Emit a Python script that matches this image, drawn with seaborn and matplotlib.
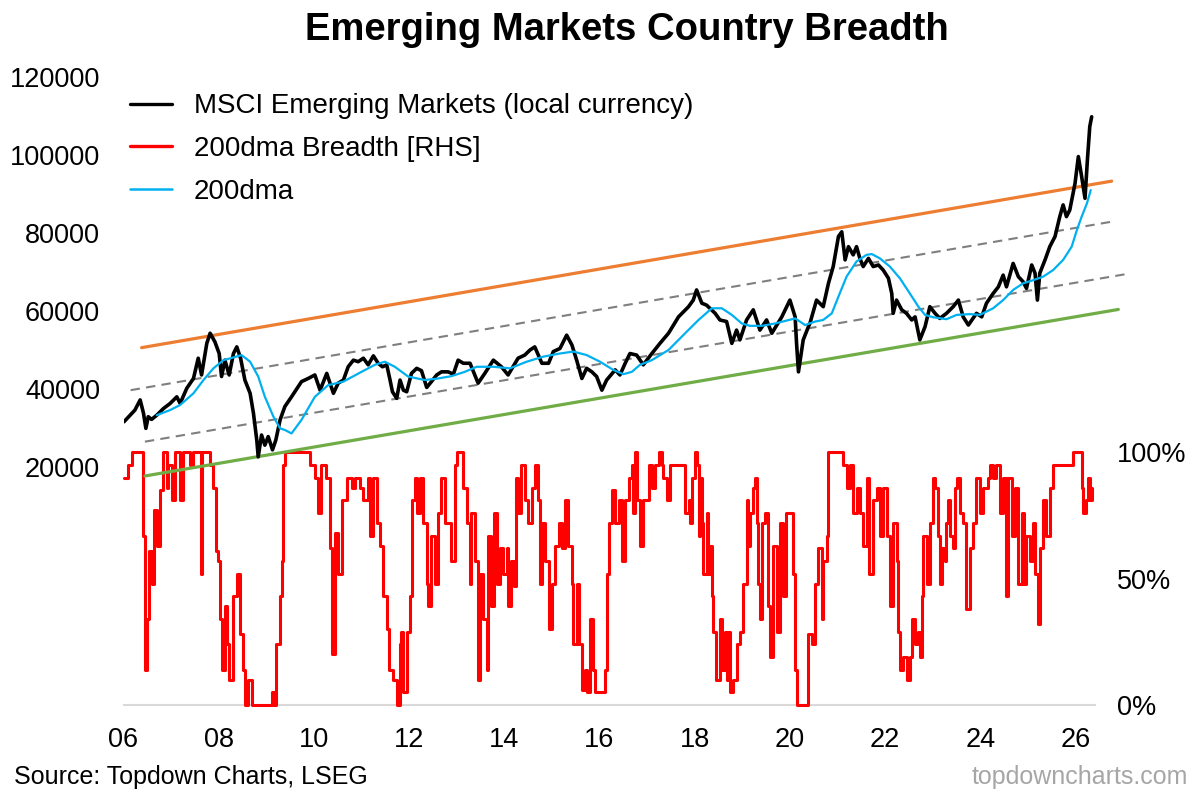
import matplotlib
matplotlib.use("Agg")
import matplotlib.pyplot as plt
import seaborn as sns
import pandas as pd
from matplotlib.lines import Line2D

# ---------------- data ----------------
msci_year = [2006.01, 2006.14, 2006.24, 2006.35, 2006.42, 2006.47, 2006.52, 2006.59, 2006.70, 2006.84,
             2006.98, 2007.12, 2007.19, 2007.33, 2007.47, 2007.57, 2007.64, 2007.75, 2007.82, 2007.92,
             2008.01, 2008.06, 2008.13, 2008.22, 2008.31, 2008.38, 2008.46, 2008.55, 2008.66, 2008.73,
             2008.80, 2008.83, 2008.90, 2008.97, 2009.04, 2009.13, 2009.20, 2009.29, 2009.39, 2009.53,
             2009.74, 2009.88, 2010.02, 2010.13, 2010.27, 2010.41, 2010.51, 2010.62, 2010.72, 2010.83,
             2010.93, 2011.04, 2011.14, 2011.25, 2011.35, 2011.44, 2011.53, 2011.60, 2011.65, 2011.74,
             2011.81, 2011.88, 2011.95, 2012.05, 2012.16, 2012.26, 2012.37, 2012.47, 2012.58, 2012.68,
             2012.82, 2012.93, 2013.03, 2013.14, 2013.28, 2013.45, 2013.59, 2013.77, 2013.94, 2014.08,
             2014.29, 2014.43, 2014.54, 2014.64, 2014.79, 2014.93, 2015.03, 2015.17, 2015.31, 2015.42,
             2015.52, 2015.63, 2015.73, 2015.84, 2015.94, 2016.05, 2016.15, 2016.33, 2016.43, 2016.54,
             2016.64, 2016.78, 2016.92, 2017.10, 2017.27, 2017.45, 2017.66, 2017.87, 2017.97, 2018.04,
             2018.15, 2018.25, 2018.43, 2018.53, 2018.67, 2018.78, 2018.88, 2018.95, 2019.09, 2019.23,
             2019.37, 2019.51, 2019.62, 2019.83, 2020.00, 2020.11, 2020.14, 2020.18, 2020.28, 2020.39,
             2020.42, 2020.56, 2020.70, 2020.81, 2020.91, 2021.02, 2021.09, 2021.16, 2021.23, 2021.33,
             2021.40, 2021.47, 2021.54, 2021.65, 2021.75, 2021.86, 2021.96, 2022.07, 2022.14, 2022.17,
             2022.24, 2022.35, 2022.45, 2022.56, 2022.63, 2022.73, 2022.84, 2022.94, 2023.05, 2023.15,
             2023.29, 2023.43, 2023.54, 2023.64, 2023.75, 2023.92, 2024.03, 2024.13, 2024.27, 2024.38,
             2024.48, 2024.55, 2024.69, 2024.80, 2024.90, 2024.97, 2025.08, 2025.15, 2025.20, 2025.25,
             2025.36, 2025.46, 2025.57, 2025.67, 2025.74, 2025.81, 2025.88, 2025.99, 2026.06, 2026.13,
             2026.20, 2026.25, 2026.30, 2026.34]
msci_value = [31600, 33300, 34600, 37200, 33800, 29900, 32900, 32200, 33300, 35000,
              36300, 38000, 36300, 40200, 42700, 47900, 43600, 51700, 54300, 52100,
              49100, 43200, 47400, 43600, 49100, 50800, 47900, 42300, 38900, 33800,
              26900, 22600, 28200, 25600, 27800, 24400, 26900, 32100, 35500, 38000,
              41900, 42700, 43600, 39700, 44000, 38900, 41500, 42300, 45700, 47400,
              47000, 47900, 46200, 48500, 46600, 45700, 46200, 42300, 39300, 37600,
              42300, 39700, 39300, 44000, 45300, 44700, 40400, 41900, 43600, 44400,
              44400, 43800, 47400, 46600, 46600, 41500, 44000, 47400, 45700, 43600,
              47900, 48700, 50000, 50800, 46600, 46600, 49600, 50400, 53800, 51300,
              47400, 42700, 45300, 44400, 43200, 39700, 42300, 44900, 43600, 46600,
              49100, 48700, 46200, 49100, 51700, 54300, 58500, 61100, 62800, 65400,
              62000, 61500, 59400, 57700, 57300, 51700, 55100, 52600, 57700, 60300,
              55100, 57700, 54300, 58500, 62800, 58500, 51700, 44400, 52600, 56000,
              56800, 62800, 61100, 67100, 71400, 79100, 80300, 73100, 76500, 74400,
              76500, 73500, 71400, 73500, 71400, 71800, 70500, 68400, 64500, 59400,
              62800, 60300, 59400, 57700, 58500, 52600, 56000, 61100, 59400, 58100,
              59400, 61100, 62800, 58500, 56400, 59400, 58500, 62000, 64500, 66200,
              69200, 66200, 72200, 68800, 67500, 65800, 71800, 69700, 62800, 69700,
              73100, 76500, 79100, 84200, 87200, 84200, 85900, 92700, 99600, 94400,
              88900, 98700, 107300, 109800]

dma_year = [2006.70, 2006.98, 2007.19, 2007.47, 2007.68, 2007.89, 2008.10, 2008.31, 2008.48, 2008.66,
            2008.83, 2008.97, 2009.15, 2009.29, 2009.39, 2009.53, 2009.74, 2010.02, 2010.30, 2010.62,
            2011.00, 2011.28, 2011.49, 2011.70, 2011.98, 2012.33, 2012.61, 2012.89, 2013.17, 2013.42,
            2013.77, 2014.12, 2014.47, 2014.82, 2015.17, 2015.45, 2015.73, 2016.01, 2016.29, 2016.50,
            2016.68, 2016.85, 2017.10, 2017.45, 2017.80, 2018.08, 2018.36, 2018.57, 2018.78, 2018.99,
            2019.16, 2019.41, 2019.69, 2020.11, 2020.32, 2020.53, 2020.70, 2020.88, 2021.02, 2021.19,
            2021.40, 2021.61, 2021.72, 2021.89, 2022.10, 2022.31, 2022.52, 2022.70, 2022.84, 2023.01,
            2023.29, 2023.50, 2023.78, 2023.99, 2024.27, 2024.48, 2024.69, 2024.90, 2025.11, 2025.32,
            2025.53, 2025.74, 2025.92, 2026.03, 2026.13, 2026.24, 2026.32]
dma_value = [33300, 34600, 35900, 38900, 42300, 45300, 47400, 48100, 48700, 47000,
             43200, 38000, 32900, 29900, 29500, 28600, 32100, 38000, 41000, 41900,
             44400, 46200, 47000, 45700, 43200, 42300, 42700, 43300, 44400, 45700,
             45700, 45300, 47000, 48300, 49100, 49600, 48700, 47000, 44900, 43800,
             44400, 46200, 47400, 50000, 54300, 57700, 60700, 60700, 59000, 56800,
             56200, 56200, 56800, 58100, 56400, 57300, 57700, 59400, 63700, 68800,
             72700, 74400, 74600, 73500, 71400, 68400, 64500, 61100, 59000, 58400,
             57900, 59000, 59200, 59000, 60700, 62800, 65400, 67100, 67900, 68800,
             70500, 73100, 76500, 80800, 84200, 87600, 91000]

breadth_year = [2006.00, 2006.10, 2006.17, 2006.40, 2006.45, 2006.49, 2006.54, 2006.59, 2006.64, 2006.70,
                2006.77, 2006.84, 2006.91, 2006.94, 2007.01, 2007.08, 2007.19, 2007.26, 2007.40, 2007.47,
                2007.62, 2007.65, 2007.82, 2007.89, 2007.94, 2007.99, 2008.03, 2008.06, 2008.13, 2008.17,
                2008.22, 2008.31, 2008.38, 2008.45, 2008.52, 2008.55, 2008.62, 2008.70, 2009.12, 2009.16,
                2009.20, 2009.29, 2009.32, 2009.36, 2009.40, 2009.92, 2010.02, 2010.09, 2010.14, 2010.25,
                2010.34, 2010.37, 2010.44, 2010.51, 2010.58, 2010.69, 2010.79, 2010.86, 2010.97, 2011.04,
                2011.14, 2011.18, 2011.25, 2011.32, 2011.39, 2011.46, 2011.53, 2011.58, 2011.67, 2011.74,
                2011.81, 2011.84, 2011.88, 2011.95, 2012.02, 2012.07, 2012.12, 2012.16, 2012.23, 2012.30,
                2012.37, 2012.40, 2012.47, 2012.54, 2012.61, 2012.68, 2012.75, 2012.89, 2012.96, 2013.00,
                2013.14, 2013.21, 2013.28, 2013.31, 2013.38, 2013.45, 2013.49, 2013.56, 2013.63, 2013.66,
                2013.73, 2013.79, 2013.84, 2013.91, 2013.98, 2014.05, 2014.08, 2014.15, 2014.21, 2014.24,
                2014.29, 2014.36, 2014.43, 2014.50, 2014.58, 2014.64, 2014.70, 2014.74, 2014.79, 2014.86,
                2014.93, 2015.00, 2015.07, 2015.14, 2015.21, 2015.28, 2015.33, 2015.42, 2015.45, 2015.52,
                2015.57, 2015.63, 2015.70, 2015.73, 2015.80, 2015.87, 2015.91, 2016.12, 2016.15, 2016.20,
                2016.26, 2016.33, 2016.40, 2016.47, 2016.54, 2016.61, 2016.68, 2016.71, 2016.75, 2016.78,
                2016.85, 2016.92, 2017.03, 2017.10, 2017.17, 2017.24, 2017.31, 2017.34, 2017.41, 2017.48,
                2017.80, 2017.87, 2017.90, 2017.94, 2018.01, 2018.04, 2018.08, 2018.11, 2018.15, 2018.18,
                2018.25, 2018.29, 2018.32, 2018.36, 2018.39, 2018.45, 2018.53, 2018.57, 2018.64, 2018.67,
                2018.71, 2018.74, 2018.81, 2018.88, 2018.95, 2019.02, 2019.09, 2019.13, 2019.16, 2019.23,
                2019.27, 2019.30, 2019.34, 2019.37, 2019.41, 2019.48, 2019.55, 2019.58, 2019.65, 2019.72,
                2019.79, 2019.86, 2019.92, 2020.07, 2020.11, 2020.14, 2020.39, 2020.46, 2020.53, 2020.60,
                2020.67, 2020.70, 2020.77, 2020.81, 2021.12, 2021.19, 2021.26, 2021.33, 2021.40, 2021.47,
                2021.54, 2021.61, 2021.67, 2021.75, 2021.82, 2021.89, 2021.96, 2022.03, 2022.10, 2022.17,
                2022.24, 2022.28, 2022.31, 2022.38, 2022.45, 2022.52, 2022.56, 2022.63, 2022.70, 2022.73,
                2022.77, 2022.80, 2022.87, 2022.94, 2023.01, 2023.05, 2023.12, 2023.15, 2023.19, 2023.26,
                2023.29, 2023.33, 2023.36, 2023.43, 2023.47, 2023.52, 2023.57, 2023.64, 2023.71, 2023.78,
                2023.85, 2023.92, 2023.99, 2024.06, 2024.17, 2024.20, 2024.27, 2024.34, 2024.41, 2024.48,
                2024.53, 2024.59, 2024.66, 2024.73, 2024.80, 2024.87, 2024.92, 2024.97, 2025.04, 2025.11,
                2025.15, 2025.21, 2025.25, 2025.32, 2025.39, 2025.46, 2025.53, 2025.95, 2026.13, 2026.16,
                2026.23, 2026.27, 2026.30, 2026.34]
breadth_pct = [90, 95, 100, 67, 14, 34, 61, 48, 77, 63,
               85, 100, 86, 95, 81, 100, 81, 100, 95, 100,
               52, 100, 95, 86, 61, 57, 34, 14, 39, 24,
               10, 43, 52, 28, 14, 0, 10, 0, 5, 0,
               24, 43, 57, 95, 100, 95, 90, 76, 95, 90,
               62, 20, 68, 52, 81, 90, 86, 90, 86, 81,
               90, 67, 90, 72, 63, 43, 30, 14, 10, 0,
               24, 29, 5, 29, 43, 81, 90, 76, 90, 72,
               48, 39, 67, 48, 76, 90, 72, 57, 95, 100,
               86, 72, 48, 76, 57, 10, 52, 34, 14, 67,
               39, 76, 48, 62, 52, 62, 39, 57, 47, 90,
               76, 95, 81, 72, 86, 95, 81, 48, 72, 57,
               30, 48, 63, 72, 62, 81, 63, 48, 24, 48,
               24, 6, 14, 5, 34, 14, 5, 14, 52, 72,
               85, 72, 81, 57, 81, 90, 95, 76, 100, 81,
               63, 81, 95, 86, 95, 100, 95, 90, 81, 95,
               76, 81, 72, 90, 100, 95, 67, 90, 72, 52,
               76, 52, 63, 43, 29, 10, 34, 14, 29, 10,
               29, 5, 10, 24, 29, 48, 81, 63, 76, 86,
               90, 72, 48, 34, 72, 76, 39, 19, 63, 29,
               72, 43, 76, 52, 14, 0, 28, 24, 48, 62,
               34, 57, 67, 100, 95, 86, 95, 76, 86, 76,
               63, 90, 52, 81, 86, 67, 86, 67, 39, 72,
               57, 29, 14, 19, 10, 19, 34, 24, 29, 19,
               43, 67, 48, 72, 90, 86, 67, 48, 62, 57,
               72, 81, 67, 62, 86, 90, 76, 72, 38, 62,
               72, 90, 76, 86, 90, 95, 90, 95, 76, 90,
               43, 90, 67, 86, 48, 76, 48, 67, 57, 72,
               52, 32, 62, 81, 67, 86, 95, 100, 86, 76,
               81, 90, 81, 86]

# trend channel (start / end points)
orange_year = [2006.38, 2026.76]
orange_value = [50600, 93300]
upper_dash_year = [2006.15, 2026.76]
upper_dash_value = [39700, 82900]
lower_dash_year = [2006.45, 2027.08]
lower_dash_value = [26500, 69500]
green_year = [2006.45, 2026.90]
green_value = [17700, 60400]

left_ticks = [20000, 40000, 60000, 80000, 100000, 120000]
right_ticks = [0, 50, 100]
right_ticklabels = ["0%", "50%", "100%"]
x_ticks = list(range(2006, 2027, 2))
x_ticklabels = ["06", "08", "10", "12", "14", "16", "18", "20", "22", "24", "26"]

legend_labels = ["MSCI Emerging Markets (local currency)", "200dma Breadth [RHS]", "200dma"]

# ---------------- styling ----------------
sns.set_style("white")
plt.rcParams["font.family"] = ["Liberation Sans", "DejaVu Sans"]
plt.rcParams["text.color"] = "black"
plt.rcParams["axes.labelcolor"] = "black"
plt.rcParams["xtick.color"] = "black"
plt.rcParams["ytick.color"] = "black"

BLACK = "#000000"
RED = "#FF0000"
BLUE = "#00B0F0"
ORANGE = "#ED7D31"
GREEN = "#70AD47"
GREY = "#7F7F7F"

W, H = 1200, 797
fig = plt.figure(figsize=(W / 100, H / 100), dpi=100)
fig.patch.set_facecolor("white")
ax_l, ax_r, ax_t, ax_b = 123.5, 1115, 77, 705
ax = fig.add_axes([ax_l / W, (H - ax_b) / H, (ax_r - ax_l) / W, (ax_b - ax_t) / H])
ax2 = ax.twinx()
ax.set_zorder(ax2.get_zorder() + 1)
ax.patch.set_visible(False)

# breadth (RHS)
sns.lineplot(x=breadth_year, y=breadth_pct, ax=ax2, color=RED, lw=2.2,
             drawstyle="steps-post", sort=False, estimator=None, clip_on=False, zorder=3)

# channel lines
sns.lineplot(x=green_year, y=green_value, ax=ax, color=GREEN, lw=2.3,
             sort=False, estimator=None, clip_on=False)
sns.lineplot(x=orange_year, y=orange_value, ax=ax, color=ORANGE, lw=2.3,
             sort=False, estimator=None, clip_on=False)
for yy, vv in [(upper_dash_year, upper_dash_value), (lower_dash_year, lower_dash_value)]:
    sns.lineplot(x=yy, y=vv, ax=ax, color=GREY, lw=1.5, sort=False, estimator=None, clip_on=False)
    ax.lines[-1].set_dashes([4.5, 3])

# index and its 200dma
sns.lineplot(x=msci_year, y=msci_value, ax=ax, color=BLACK, lw=2.6, sort=False, estimator=None)
sns.lineplot(x=dma_year, y=dma_value, ax=ax, color=BLUE, lw=1.6, sort=False, estimator=None)

# axes limits
ax.set_xlim(2006, 2026.83)
ax.set_ylim(-41023, 120000)
ax2.set_ylim(0, 248.5)

# spines: the x-axis line lives in the lower (breadth) axes so the red 0% runs sit on top of it
for a in (ax, ax2):
    for s in ("top", "left", "right", "bottom"):
        a.spines[s].set_visible(False)
ax2.spines["bottom"].set_visible(True)
ax2.spines["bottom"].set_color("#D9D9D9")
ax2.spines["bottom"].set_linewidth(1.5)
ax2.spines["bottom"].set_bounds(2006, 2026.4)
ax2.spines["bottom"].set_zorder(1)

ax.set_xticks(x_ticks)
ax.set_xticklabels(x_ticklabels)
ax.tick_params(axis="x", direction="out", length=5, width=1.2, color="#D9D9D9",
               labelsize=19.5, pad=10.5, labelcolor="black")
ax.set_yticks(left_ticks)
ax.set_yticklabels([str(v) for v in left_ticks])
ax.tick_params(axis="y", length=0, labelsize=19.5, pad=17, labelcolor="black")
ax2.set_yticks(right_ticks)
ax2.set_yticklabels(right_ticklabels)
ax2.tick_params(axis="y", length=0, labelsize=19.5, pad=1.5, labelcolor="black")
ax.set_xlabel("")
ax.set_ylabel("")
ax2.set_ylabel("")
ax.grid(False)
ax2.grid(False)

# legend
handles = [Line2D([], [], color=BLACK, lw=2.4),
           Line2D([], [], color=RED, lw=2.4),
           Line2D([], [], color=BLUE, lw=1.8)]
ax.legend(handles, legend_labels, loc="upper left", bbox_to_anchor=(0.0066, 0.974),
          frameon=False, fontsize=20, handlelength=1.5, handletextpad=0.8,
          labelspacing=0.6, borderpad=0, borderaxespad=0)

# texts
fig.text(627 / W, 1 - 30 / H, "Emerging Markets Country Breadth", ha="center", va="center",
         fontsize=27.5, fontweight="bold", color="black")
fig.text(14 / W, 1 - 777 / H, "Source: Topdown Charts, LSEG", ha="left", va="center", fontsize=18,
         color="black")
fig.text(1188 / W, 1 - 777 / H, "topdowncharts.com", ha="right", va="center", fontsize=18,
         color="#A6A6A6")

fig.savefig("out.png", dpi=100, facecolor="white")
